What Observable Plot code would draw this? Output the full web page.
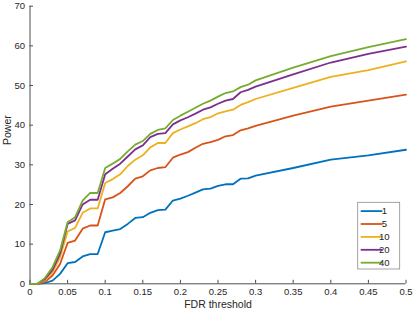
<!DOCTYPE html>
<html><head><meta charset="utf-8">
<script src="https://cdn.jsdelivr.net/npm/d3@7"></script>
<script src="https://cdn.jsdelivr.net/npm/@observablehq/plot@0.6"></script>
<style>body{margin:0;background:#fff;} svg{display:block;}</style>
</head><body><div id="chart"></div>
<script>
const fdr = [0,0.01,0.02,0.03,0.04,0.05,0.06,0.07,0.08,0.09,0.10,0.11,0.12,0.13,0.14,0.15,0.16,0.17,0.18,0.19,0.20,0.21,0.22,0.23,0.24,0.25,0.26,0.27,0.28,0.29,0.30,0.35,0.40,0.45,0.50];
const s1  = [0,0,0.2,0.8,2.5,5.2,5.5,6.9,7.5,7.5,13.0,13.4,13.8,15.1,16.6,16.8,17.9,18.6,18.7,21.0,21.5,22.2,23.0,23.8,24.0,24.7,25.1,25.1,26.5,26.6,27.3,29.2,31.3,32.4,33.8];
const s5  = [0,0,0.5,2.1,5.0,10.3,10.9,13.9,14.7,14.7,21.3,21.8,22.9,24.6,26.5,27.1,28.6,29.2,29.4,31.8,32.6,33.2,34.3,35.3,35.7,36.3,37.2,37.5,38.7,39.2,39.8,42.4,44.7,46.2,47.7];
const s10 = [0,0,1.0,2.9,6.7,13.2,14.1,17.9,19.0,19.0,25.4,26.4,27.6,29.7,31.3,32.4,34.4,35.5,35.5,38.0,38.9,39.7,40.5,41.5,42.0,43.0,43.5,43.9,45.1,45.8,46.6,49.4,52.2,53.9,56.1];
const s20 = [0,0,1.2,3.5,7.6,15.1,16.0,20.0,21.2,21.2,27.6,29.0,30.3,32.1,33.9,34.9,37.0,37.8,38.0,40.2,41.2,42.0,42.9,43.9,44.5,45.4,46.2,46.6,48.3,48.9,49.7,52.8,55.8,58.0,59.8];
const s40 = [0,0,1.5,4.2,8.4,15.5,16.8,21.0,22.9,22.9,29.2,30.3,31.5,33.4,35.1,36.0,37.8,38.8,39.2,41.3,42.4,43.4,44.4,45.4,46.2,47.2,48.1,48.5,49.6,50.2,51.3,54.5,57.4,59.7,61.7];
const seriesNames = ["1","5","10","20","40"];
const seriesVals = [s1,s5,s10,s20,s40];
const colors = ["#0072BD","#D95319","#EDB120","#7E2F8E","#77AC30"];
const xTicks = [0,0.05,0.1,0.15,0.2,0.25,0.3,0.35,0.4,0.45,0.5];
const yTicks = [0,10,20,30,40,50,60,70];

const rows = [];
seriesNames.forEach((n,i)=>fdr.forEach((x,j)=>rows.push({x, y: seriesVals[i][j], s: n})));

const axisColor = "#4d4d4d";
const textColor = "#262626";
const font = "'Liberation Sans', Arial, Helvetica, sans-serif";

const chart = Plot.plot({
  width: 415, height: 312,
  marginLeft: 29.5, marginRight: 9.5, marginTop: 5.7, marginBottom: 28.7,
  style: {fontFamily: font, fontSize: "9.5px", color: textColor, background: "#fff"},
  x: {domain: [0,0.5]},
  y: {domain: [0,70]},
  color: {domain: seriesNames, range: colors},
  marks: [
    Plot.axisX({ticks: xTicks, tickFormat: d => String(+d.toFixed(2)), tickSize: 0, tickPadding: 4, fill: textColor, label: null}),
    Plot.axisY({ticks: yTicks, tickSize: 0, tickPadding: 5, fill: textColor, label: null}),
    Plot.ruleX(xTicks, {x: d => d, y1: 0, y2: 0, insetTop: -3.5, stroke: axisColor}),
    Plot.ruleY(yTicks, {y: d => d, x1: 0, x2: 0, insetRight: -3.5, stroke: axisColor}),
    Plot.ruleX([0], {stroke: axisColor}),
    Plot.ruleY([0], {stroke: axisColor}),
    Plot.line(rows, {x: "x", y: "y", z: "s", stroke: "s", strokeWidth: 1.8, strokeLinejoin: "round"}),
    Plot.text(["FDR threshold"], {frameAnchor: "bottom", dy: 24, fontSize: 10.5, fill: textColor, text: d => d}),
    Plot.text(["Power"], {frameAnchor: "left", dx: -22.5, rotate: -90, fontSize: 10.5, fill: textColor, text: d => d})
  ]
});
document.getElementById("chart").appendChild(chart);

// legend inside the axes, bottom right
const svg = d3.select(chart);
const lg = svg.append("g").attr("transform", "translate(357.7,202.3)");
lg.append("rect").attr("width", 42).attr("height", 66.7).attr("fill", "#fff").attr("stroke", "#8c8c8c").attr("stroke-width", 0.8);
seriesNames.forEach((n,i)=>{
  const yy = 8.8 + i*12.9;
  lg.append("line").attr("x1", 3).attr("x2", 24.6).attr("y1", yy).attr("y2", yy).attr("stroke", colors[i]).attr("stroke-width", 1.8);
  lg.append("text").attr("x", 26.6).attr("y", yy).attr("dy", "0.35em").attr("font-size", 9.5).attr("fill", textColor).attr("font-family", font).text(n);
});
</script></body></html>
